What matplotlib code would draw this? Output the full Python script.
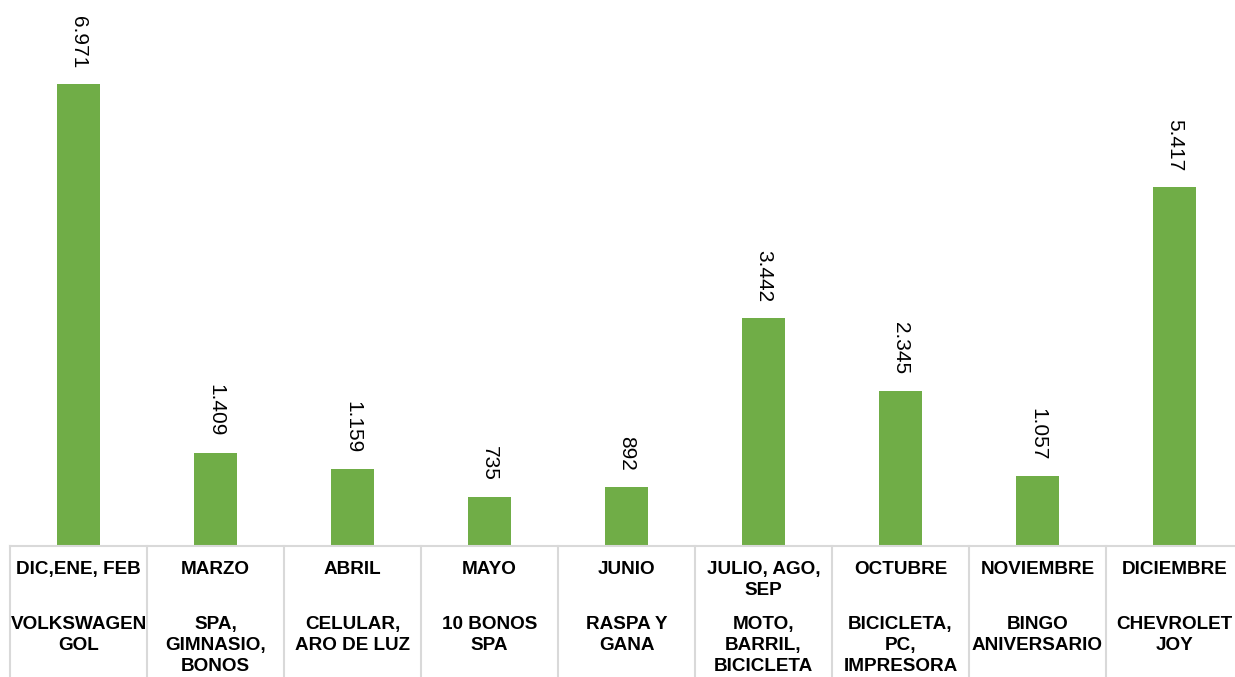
import matplotlib
matplotlib.use("Agg")
import matplotlib.pyplot as plt
from matplotlib.transforms import blended_transform_factory

plt.rcParams['font.family'] = ['Liberation Sans', 'DejaVu Sans']

# Datos del gráfico
meses = ["DIC,ENE, FEB", "MARZO", "ABRIL", "MAYO", "JUNIO",
         "JULIO, AGO,\nSEP", "OCTUBRE", "NOVIEMBRE", "DICIEMBRE"]
premios = ["VOLKSWAGEN\nGOL", "SPA,\nGIMNASIO,\nBONOS", "CELULAR,\nARO DE LUZ",
           "10 BONOS\nSPA", "RASPA Y\nGANA", "MOTO,\nBARRIL,\nBICICLETA",
           "BICICLETA,\nPC,\nIMPRESORA", "BINGO\nANIVERSARIO", "CHEVROLET\nJOY"]
valores = [6971, 1409, 1159, 735, 892, 3442, 2345, 1057, 5417]

W, H = 1235, 677
fig = plt.figure(figsize=(W / 100, H / 100), dpi=100)
ax = fig.add_axes([10 / W, 131 / H, 1233 / W, 546 / H])

gris = '#D9D9D9'
x = list(range(len(valores)))
ax.bar(x, valores, width=0.314, color='#70AD47')
ax.set_xlim(-0.5, len(valores) - 0.5)
ax.set_ylim(0, 8238)

# Etiquetas de valor rotadas
for xi, v in zip(x, valores):
    txt = f"{v:,}".replace(",", ".")
    ax.annotate(txt, (xi, v), xytext=(0, 11.5), textcoords='offset points',
                rotation=270, ha='center', va='bottom', fontsize=15)

for s in ['top', 'right', 'left']:
    ax.spines[s].set_visible(False)
ax.spines['bottom'].set_color(gris)
ax.spines['bottom'].set_linewidth(1.5)
ax.set_xticks([])
ax.set_yticks([])

# Tabla de categorías bajo el eje
tr = blended_transform_factory(ax.transData, ax.transAxes)
fondo = -131 / 546
for i in range(len(valores) + 1):
    ax.plot([i - 0.5, i - 0.5], [0, fondo], color=gris, lw=1.5,
            transform=tr, clip_on=False)

trf = blended_transform_factory(ax.transData, fig.transFigure)
for xi, m, p in zip(x, meses, premios):
    ax.text(xi, 1 - 561 / H, m, transform=trf, ha='center', va='top',
            fontsize=13.6, fontweight='bold', linespacing=1.3)
    ax.text(xi, 1 - 616 / H, p, transform=trf, ha='center', va='top',
            fontsize=13.6, fontweight='bold', linespacing=1.3)

fig.savefig("out.png", dpi=100)
